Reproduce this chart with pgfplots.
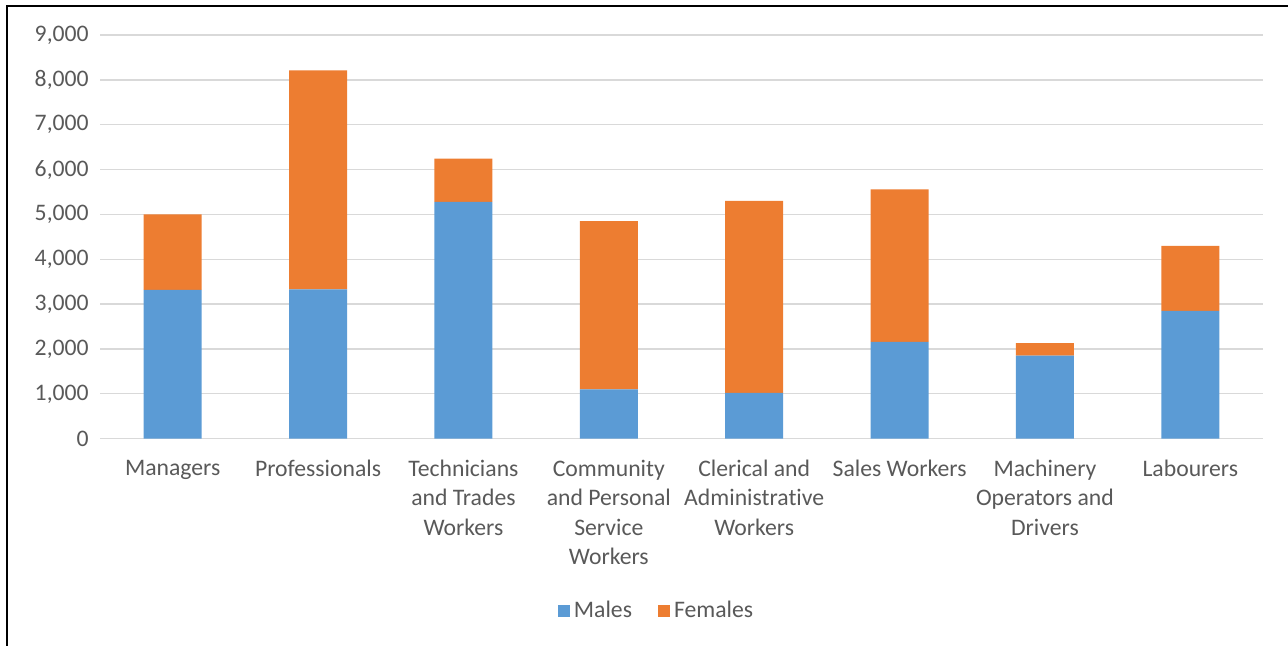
\documentclass[border=0pt]{standalone}
\usepackage{pgfplots}
\pgfplotsset{compat=1.18}
\usepackage{fontspec}
\setmainfont{Carlito}[Ligatures=NoCommon]
\definecolor{cblue}{HTML}{5B9BD5}
\definecolor{corange}{HTML}{ED7D31}
\definecolor{cgrid}{HTML}{D9D9D9}
\definecolor{ctext}{HTML}{595959}
\begin{document}
\fontsize{11.85pt}{14.75pt}\selectfont
\begin{tikzpicture}
\useasboundingbox (0pt,0pt) rectangle (644pt,323pt);
\draw[black, line width=0.7pt] (3.5pt,-1pt) -- (3.5pt,320pt) -- (650pt,320pt);
\begin{axis}[
  at={(50pt,103.65pt)}, anchor=south west,
  scale only axis, width=581.5pt, height=201.85pt,
  ybar stacked, bar width=29pt,
  xmin=-0.5, xmax=7.5, ymin=0, ymax=9000,
  xtick={0,...,7},
  xticklabels={Managers, Professionals, {Technicians\\and Trades\\Workers}, {Community\\and Personal\\Service\\Workers}, {Clerical and\\Administrative\\Workers}, Sales Workers, {Machinery\\Operators and\\Drivers}, Labourers},
  x tick label style={align=center, text=ctext, font=\fontsize{11.85pt}{14.75pt}\selectfont, yshift=-6.5pt},
  ytick={0,1000,...,9000},
  y tick label style={text=ctext, font=\fontsize{11.85pt}{14.75pt}\selectfont, xshift=-1.5pt},
  /pgf/number format/assume math mode=true,
  /pgf/number format/1000 sep={,},
  scaled y ticks=false,
  ymajorgrids, grid style={cgrid, line width=0.65pt},
  axis line style={draw=none},
  major tick length=0pt,
  legend style={at={(0.4794,-0.4265)}, anchor=center, draw=none, legend columns=2,
    font=\fontsize{11.85pt}{14.75pt}\selectfont, text=ctext,
    /tikz/every even column/.append style={column sep=11pt}},
  legend image code/.code={\fill[#1] (-4pt,-3pt) rectangle (2pt,3pt);},
]
\addplot[fill=cblue, draw=none] coordinates {(0,3320) (1,3330) (2,5280) (3,1100) (4,1020) (5,2160) (6,1850) (7,2850)};
\addplot[fill=corange, draw=none] coordinates {(0,1680) (1,4880) (2,965) (3,3750) (4,4280) (5,3400) (6,280) (7,1450)};
\legend{Males, Females}
\end{axis}
\end{tikzpicture}
\end{document}
